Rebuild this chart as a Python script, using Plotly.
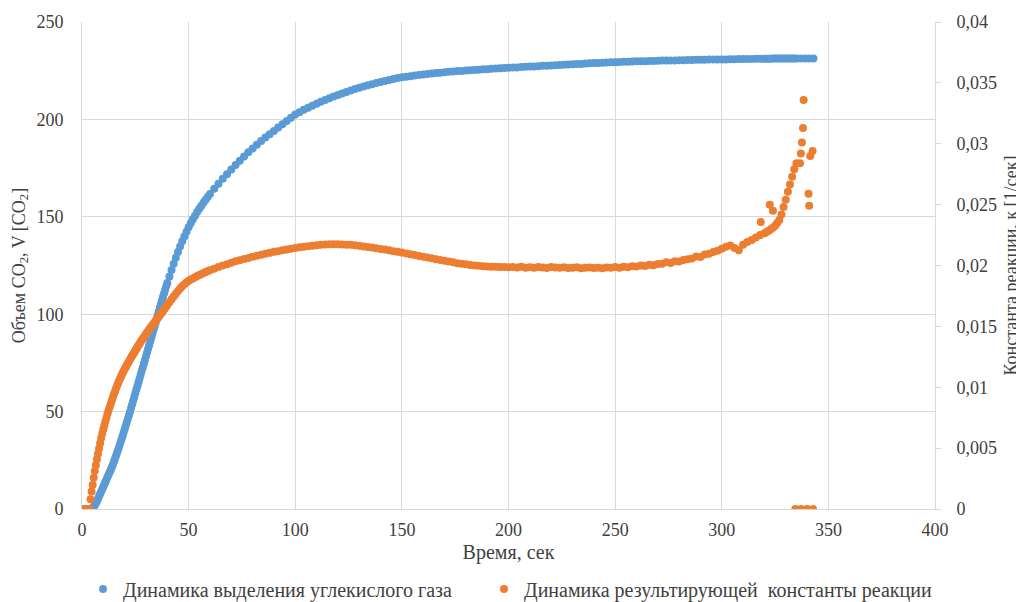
import plotly.graph_objects as go

# ---- sample times (s) ----
t_start = [0, 1, 2, 3]
t_fast = [3.5, 4, 4.5, 5, 5.5, 6, 6.5, 7, 7.5, 8, 8.5, 9, 9.5, 10, 10.5, 11, 11.5, 12, 12.5, 13,
          13.5, 14, 14.5, 15, 15.5, 16, 16.5, 17, 17.5, 18, 18.5, 19, 19.5, 20, 20.5, 21, 21.5, 22,
          22.5, 23, 23.5, 24, 24.5, 25, 25.5, 26, 26.5, 27, 27.5, 28, 28.5, 29, 29.5, 30, 30.5, 31,
          31.5, 32, 32.5, 33, 33.5, 34, 34.5, 35, 35.5, 36, 36.5, 37, 37.5, 38, 38.5, 39, 39.5, 40]
t_early = list(range(41, 61))           # 41..60 every 1 s
t_mid = list(range(62, 321, 2))         # 62..320 every 2 s
t_late = list(range(321, 336))          # 321..335 every 1 s
t_end = [337, 339, 341, 343]

# ---- CO2 volume (left axis) ----
v_start = [0, 0, 0, 0]
v_fast = [0, 0, 0.1, 0.5, 1.1, 2.0, 3.0, 4.0, 5.2, 6.5, 7.7, 9.0, 10.2, 11.5, 12.7, 14.0, 15.2, 16.5, 17.7, 19.0,
          20.2, 21.5, 22.9, 24.4, 25.9, 27.5, 29.1, 30.7, 32.3, 34.0, 35.7, 37.4, 39.1, 40.9, 42.7, 44.5, 46.3, 48.1,
          49.9, 51.8, 53.7, 55.6, 57.5, 59.4, 61.3, 63.2, 65.1, 67.0, 68.9, 70.8, 72.7, 74.6, 76.5, 78.4, 80.3, 82.2,
          84.1, 86.0, 87.9, 89.8, 91.7, 93.6, 95.5, 97.5, 99.5, 101.4, 103.3, 105.2, 107.1, 108.9, 110.7, 112.5, 114.3, 116.0]
v_early = [119.4, 122.7, 125.9, 129.0, 131.9, 134.7, 137.4, 139.9, 142.3, 144.6,
           146.7, 148.7, 150.6, 152.4, 154.1, 155.7, 157.3, 158.8, 160.3, 161.7]
v_mid = [164.4, 167.0, 169.5, 171.9, 174.3, 176.6, 178.8, 181.0, 183.1, 185.1,
         187.0, 188.9, 190.7, 192.4, 194.1, 195.8, 197.5, 199.2, 200.9, 202.5,
         203.7, 204.9, 206.0, 207.0, 208.0, 209.0, 209.9, 210.8, 211.7, 212.5,
         213.3, 214.1, 214.8, 215.6, 216.3, 216.9, 217.5, 218.1, 218.7, 219.2,
         219.7, 220.2, 220.7, 221.2, 221.6, 221.9, 222.2, 222.5, 222.8, 223.1,
         223.3, 223.5, 223.8, 224.0, 224.2, 224.4, 224.6, 224.8, 224.9, 225.1,
         225.2, 225.4, 225.5, 225.7, 225.8, 226.0, 226.1, 226.2, 226.4, 226.5,
         226.6, 226.7, 226.9, 227.0, 227.1, 227.2, 227.3, 227.5, 227.6, 227.7,
         227.8, 227.9, 228.1, 228.2, 228.3, 228.4, 228.5, 228.7, 228.8, 228.9,
         229.0, 229.1, 229.2, 229.3, 229.4, 229.5, 229.6, 229.6, 229.7, 229.8,
         229.9, 229.9, 230.0, 230.0, 230.1, 230.2, 230.2, 230.3, 230.3, 230.4,
         230.4, 230.5, 230.5, 230.6, 230.6, 230.6, 230.7, 230.7, 230.8, 230.8,
         230.8, 230.9, 230.9, 231.0, 231.0, 231.0, 231.0, 231.1, 231.1, 231.1]
v_late = [231.1, 231.1, 231.1, 231.2, 231.2, 231.2, 231.2, 231.2, 231.2, 231.2,
          231.2, 231.3, 231.3, 231.3, 231.3]
v_end = [231.3, 231.3, 231.3, 231.3]

# ---- reaction constant (right axis), 1/s ----
k_start = [0, 0, 0, 0]
k_fast = [0, 0.0008, 0.00144, 0.0020, 0.00256, 0.00312, 0.0036, 0.00408, 0.00453, 0.00496,
          0.00541, 0.00584, 0.00621, 0.00656, 0.00688, 0.0072, 0.00752, 0.00784, 0.00813, 0.0084,
          0.00867, 0.00893, 0.00918, 0.00944, 0.00968, 0.00992, 0.01014, 0.01037, 0.01058, 0.01077,
          0.01096, 0.01114, 0.01131, 0.01149, 0.01165, 0.01181, 0.01197, 0.01211, 0.01227, 0.01242,
          0.01258, 0.01272, 0.01286, 0.01301, 0.01315, 0.0133, 0.01344, 0.01358, 0.01373, 0.01386,
          0.01398, 0.01411, 0.01424, 0.01437, 0.0145, 0.01461, 0.01474, 0.01485, 0.01498, 0.01509,
          0.0152, 0.01531, 0.01544, 0.01555, 0.01568, 0.01579, 0.01592, 0.01603, 0.01616, 0.01627,
          0.0164, 0.01651, 0.01664, 0.01675]
k_early = [0.01699, 0.01723, 0.01746, 0.01768, 0.0179, 0.01811, 0.01829, 0.01846, 0.01861, 0.01874,
           0.01885, 0.01894, 0.01904, 0.01914, 0.01922, 0.0193, 0.01938, 0.01946, 0.01954, 0.01962]
k_mid = [0.01974, 0.01987, 0.0200, 0.02011, 0.02022, 0.02034, 0.02043, 0.02053, 0.02062, 0.02072,
         0.0208, 0.02088, 0.02096, 0.02104, 0.02112, 0.02118, 0.02125, 0.02131, 0.02138, 0.02144,
         0.02149, 0.02154, 0.02158, 0.02163, 0.02166, 0.0217, 0.02173, 0.02174, 0.02174, 0.02174,
         0.02173, 0.02171, 0.0217, 0.02166, 0.02162, 0.02157, 0.02152, 0.02147, 0.02142, 0.02136,
         0.02131, 0.02125, 0.02118, 0.02112, 0.02106, 0.02099, 0.02093, 0.02086, 0.02078, 0.02072,
         0.02066, 0.02059, 0.02051, 0.02045, 0.02038, 0.02032, 0.02026, 0.02019, 0.02014, 0.0201,
         0.02005, 0.0200, 0.01997, 0.01994, 0.01992, 0.0199, 0.01989, 0.01987, 0.01987, 0.01986,
         0.01987, 0.01984, 0.01989, 0.01982, 0.01986, 0.01981, 0.01987, 0.01984, 0.01979, 0.01987,
         0.01984, 0.01981, 0.01986, 0.01979, 0.01982, 0.01986, 0.01978, 0.01982, 0.01984, 0.01979,
         0.01982, 0.01978, 0.01984, 0.01981, 0.01987, 0.01982, 0.0199, 0.01986, 0.01994, 0.01992,
         0.0200, 0.01995, 0.02006, 0.02003, 0.02013, 0.02014, 0.02026, 0.02021, 0.02035, 0.02032,
         0.02046, 0.02051, 0.02058, 0.02074, 0.02069, 0.0209, 0.02096, 0.0211, 0.02122, 0.02138,
         0.02154, 0.02165, 0.02144, 0.02126, 0.0217, 0.02192, 0.0221, 0.02229, 0.0225, 0.02264]
k_late = [0.02275, 0.02286, 0.02298, 0.0231, 0.02326, 0.02349, 0.02374, 0.02419, 0.0248, 0.02541,
          0.02605, 0.02666, 0.02728, 0.0279, 0.0284]
# scattered values near the end of the run
t_scatter = [318.3, 322.5, 324.0, 336.7, 337.1, 337.6, 338.1, 338.4, 340.7, 341.0, 341.5, 342.6,
             334.5, 337.2, 340.0, 342.8]
k_scatter = [0.02357, 0.0250, 0.0245, 0.0284, 0.0292, 0.0301, 0.0313, 0.0336, 0.0259, 0.0249, 0.0290, 0.0294,
             0, 0, 0, 0]

blue_t = t_start + t_fast + t_early + t_mid + t_late + t_end
blue_v = v_start + v_fast + v_early + v_mid + v_late + v_end
orange_t = t_start + t_fast + t_early + t_mid + t_late + t_scatter
orange_k = k_start + k_fast + k_early + k_mid + k_late + k_scatter

x_ticks = [0, 50, 100, 150, 200, 250, 300, 350, 400]
y_ticks = [0, 50, 100, 150, 200, 250]
y2_ticks = [0, 0.005, 0.01, 0.015, 0.02, 0.025, 0.03, 0.035, 0.04]
y2_labels = ["0", "0,005", "0,01", "0,015", "0,02", "0,025", "0,03", "0,035", "0,04"]

BLUE = "#5B9BD5"
ORANGE = "#ED7D31"
GRID = "#D9D9D9"
TXT = "#404040"
FONT = "Liberation Serif, Times New Roman, serif"
TICK = dict(family=FONT, size=18, color=TXT)
TITLE = dict(family=FONT, size=18, color=TXT)
LEG = dict(family=FONT, size=20, color=TXT)

fig = go.Figure()
fig.add_trace(go.Scatter(
    x=blue_t, y=blue_v, mode="markers",
    name="Динамика выделения углекислого газа", legend="legend",
    marker=dict(color=BLUE, size=8, line=dict(width=0)),
))
fig.add_trace(go.Scatter(
    x=orange_t, y=orange_k, mode="markers", yaxis="y2",
    name="Динамика результирующей  константы реакции", legend="legend2",
    marker=dict(color=ORANGE, size=8, line=dict(width=0)),
))

# the page body has an 8 px margin, so the figure is 8 px smaller each way
fig.update_layout(
    width=1016, height=594,
    margin=dict(l=74, r=89, t=14, b=93, autoexpand=False),
    paper_bgcolor="white", plot_bgcolor="white",
    font=dict(family=FONT, size=18, color=TXT),
    showlegend=True,
    legend=dict(
        orientation="h", x=0.0012, xanchor="left",
        yref="container", y=0.022, yanchor="middle",
        font=LEG, bgcolor="rgba(0,0,0,0)",
    ),
    legend2=dict(
        orientation="h", x=0.4713, xanchor="left",
        yref="container", y=0.022, yanchor="middle",
        font=LEG, bgcolor="rgba(0,0,0,0)",
    ),
    xaxis=dict(
        range=[0, 400], tickvals=x_ticks, showgrid=True, gridcolor=GRID, gridwidth=1,
        zeroline=False, showline=True, linecolor=GRID, linewidth=1, ticks="",
        tickfont=TICK, ticklabelstandoff=4, automargin=False,
        title=dict(text="Время, сек", font=dict(family=FONT, size=20, color=TXT), standoff=6),
    ),
    yaxis=dict(
        range=[0, 250], tickvals=y_ticks, showgrid=True, gridcolor=GRID, gridwidth=1,
        zeroline=False, showline=True, linecolor=GRID, linewidth=1, ticks="",
        tickfont=TICK, ticklabelstandoff=14, automargin=False,
        title=dict(text="Объем CO<sub>2</sub>, V [CO<sub>2</sub>]", font=TITLE, standoff=6),
    ),
    yaxis2=dict(
        range=[0, 0.04], tickvals=y2_ticks, ticktext=y2_labels, overlaying="y", side="right",
        showgrid=False, zeroline=False, showline=True, linecolor=GRID, linewidth=1,
        ticks="outside", ticklen=5, tickcolor=GRID,
        tickfont=TICK, ticklabelstandoff=12, automargin=False,
        title=dict(text="Константа реакции, к [1/сек]", font=TITLE, standoff=8),
    ),
)

fig.write_html("out.html")
